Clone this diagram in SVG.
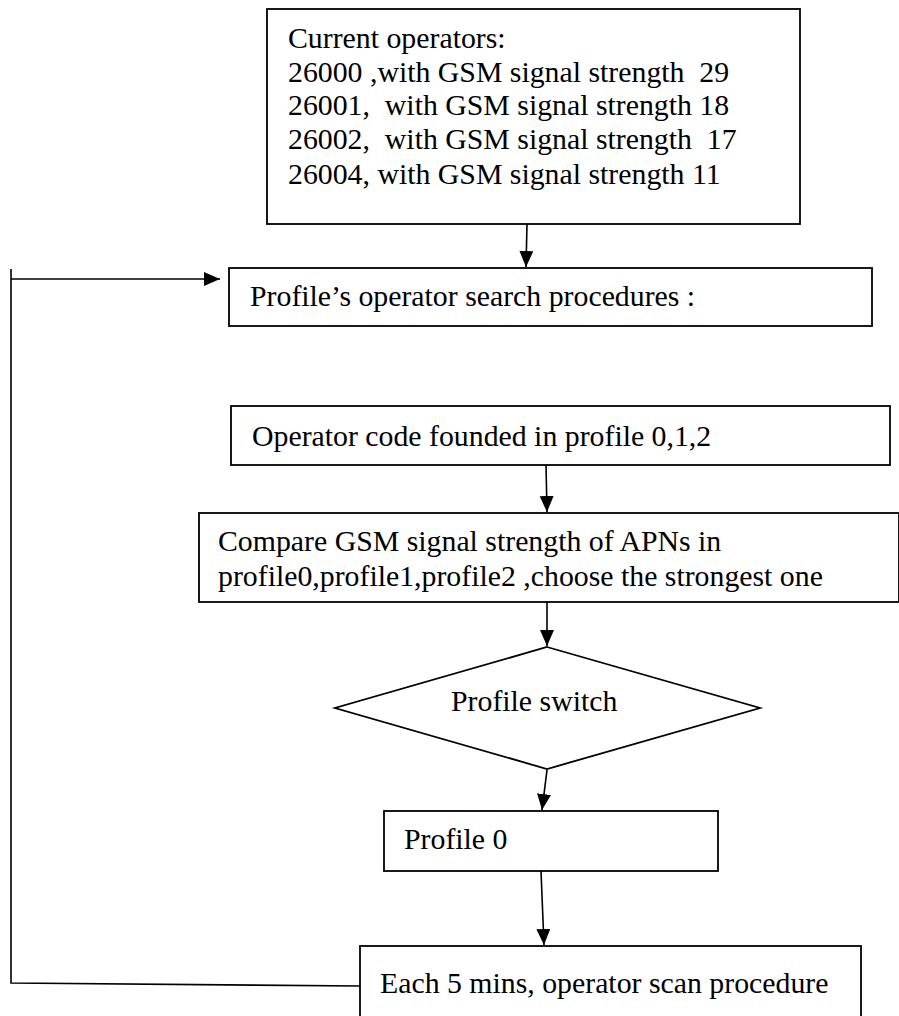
<svg xmlns="http://www.w3.org/2000/svg" width="899" height="1016" viewBox="0 0 899 1016">
<defs>
<style>
.box{fill:#fff;stroke:#000;stroke-width:1.8}
.t{font-family:"Liberation Serif","Times New Roman",serif;font-size:29.8px;fill:#000}
.c{fill:none;stroke:#000;stroke-width:1.6}
</style>
<marker id="ah" markerUnits="userSpaceOnUse" markerWidth="17" markerHeight="15" refX="16" refY="7" orient="auto">
<path d="M0,0 L16,7 L0,14 z" fill="#000"/>
</marker>
</defs>
<rect width="899" height="1016" fill="#fff"/>
<g id="operators">
<rect class="box" x="267" y="9" width="533" height="215"/>
<text class="t" x="288" y="48">Current operators:</text>
<text class="t" x="288" y="82" xml:space="preserve">26000 ,with GSM signal strength  29</text>
<text class="t" x="288" y="115" xml:space="preserve">26001,  with GSM signal strength 18</text>
<text class="t" x="288" y="149" xml:space="preserve">26002,  with GSM signal strength  17</text>
<text class="t" x="288" y="184">26004, with GSM signal strength 11</text>
</g>
<g id="search">
<rect class="box" x="229" y="268" width="643" height="58"/>
<text class="t" x="250" y="306">Profile’s operator search procedures :</text>
</g>
<g id="found">
<rect class="box" x="231" y="406" width="659" height="59"/>
<text class="t" x="252" y="446">Operator code founded in profile 0,1,2</text>
</g>
<g id="compare">
<rect class="box" x="199" y="513" width="700" height="89"/>
<text class="t" x="218" y="551">Compare GSM signal strength of APNs in</text>
<text class="t" x="218" y="586">profile0,profile1,profile2 ,choose the strongest one</text>
</g>
<g id="switch">
<polygon class="box" points="547,647 760,708 547,769 335,708"/>
<text class="t" x="451" y="711">Profile switch</text>
</g>
<g id="profile0">
<rect class="box" x="384" y="811" width="334" height="60"/>
<text class="t" x="404" y="849">Profile 0</text>
</g>
<g id="scan">
<rect class="box" x="360" y="946" width="501" height="80"/>
<text class="t" x="380" y="993">Each 5 mins, operator scan procedure</text>
</g>
<g id="connectors">
<line class="c" x1="527" y1="224" x2="526" y2="267" marker-end="url(#ah)"/>
<line class="c" x1="546" y1="465" x2="547" y2="512" marker-end="url(#ah)"/>
<line class="c" x1="547" y1="602" x2="547" y2="646" marker-end="url(#ah)"/>
<line class="c" x1="547" y1="770" x2="542" y2="810" marker-end="url(#ah)"/>
<line class="c" x1="541" y1="871" x2="544" y2="945" marker-end="url(#ah)"/>
<polyline class="c" points="360,986 11,983 11,269"/>
<line class="c" x1="11" y1="279" x2="220" y2="279" marker-end="url(#ah)"/>
</g>
</svg>
